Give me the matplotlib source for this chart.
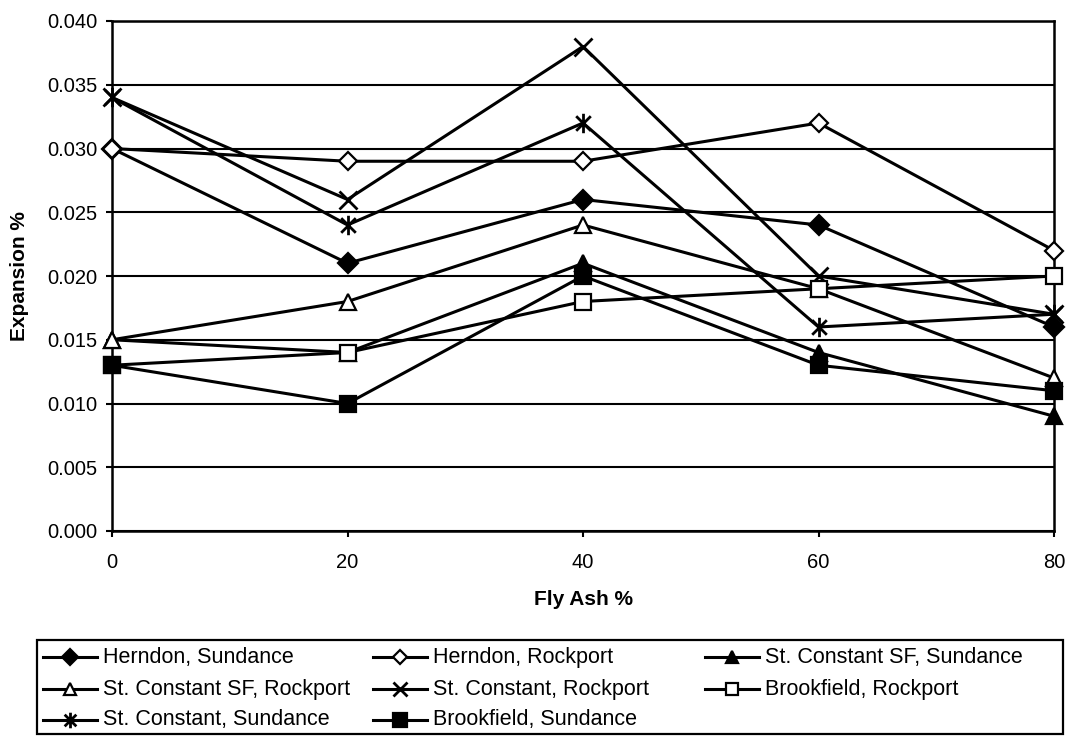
import matplotlib
matplotlib.use("Agg")
import matplotlib.pyplot as plt
from matplotlib.path import Path
from matplotlib.lines import Line2D
from matplotlib.patches import Rectangle

plt.rcParams['font.family'] = ['Liberation Sans', 'DejaVu Sans']

fly_ash = [0, 20, 40, 60, 80]

herndon_sundance = [0.030, 0.021, 0.026, 0.024, 0.016]
herndon_rockport = [0.030, 0.029, 0.029, 0.032, 0.022]
stc_sf_sundance = [0.015, 0.014, 0.021, 0.014, 0.009]
stc_sf_rockport = [0.015, 0.018, 0.024, 0.019, 0.012]
stc_rockport = [0.034, 0.026, 0.038, 0.020, 0.017]
brookfield_rockport = [0.013, 0.014, 0.018, 0.019, 0.020]
stc_sundance = [0.034, 0.024, 0.032, 0.016, 0.017]
brookfield_sundance = [0.013, 0.010, 0.020, 0.013, 0.011]

y_ticks = [0.000, 0.005, 0.010, 0.015, 0.020, 0.025, 0.030, 0.035, 0.040]

# asterisk marker: vertical bar plus an X
asterisk = Path(
    [(0, -1), (0, 1), (-0.75, -0.75), (0.75, 0.75), (-0.75, 0.75), (0.75, -0.75)],
    [Path.MOVETO, Path.LINETO, Path.MOVETO, Path.LINETO, Path.MOVETO, Path.LINETO],
)

W, H = 1070, 736
fig = plt.figure(figsize=(W / 100, H / 100), dpi=100)
ax = fig.add_axes([112 / W, 1 - 531 / H, 942 / W, 510 / H])

lw = 2.2
series = [
    ("Herndon, Sundance", herndon_sundance, dict(marker='D', ms=10, mfc='black')),
    ("Herndon, Rockport", herndon_rockport, dict(marker='D', ms=9, mfc='white')),
    ("St. Constant SF, Sundance", stc_sf_sundance, dict(marker='^', ms=11.5, mfc='black')),
    ("St. Constant SF, Rockport", stc_sf_rockport, dict(marker='^', ms=11, mfc='white')),
    ("St. Constant, Rockport", stc_rockport, dict(marker='x', ms=13, mew=2.0)),
    ("Brookfield, Rockport", brookfield_rockport, dict(marker='s', ms=11, mfc='white')),
    ("St. Constant, Sundance", stc_sundance, dict(marker=asterisk, ms=14, mew=2.0, mfc='none')),
    ("Brookfield, Sundance", brookfield_sundance, dict(marker='s', ms=12, mfc='black')),
]

styles = {}
for name, vals, style in series:
    opts = dict(color='black', lw=lw, mec='black', mew=1.6)
    opts.update(style)
    styles[name] = opts
    ax.plot(fly_ash, vals, label=name, zorder=3, clip_on=False, **opts)

ax.set_xlim(0, 80)
ax.set_ylim(0, 0.040)
ax.set_xticks(fly_ash)
ax.set_yticks(y_ticks)
ax.set_yticklabels([f"{v:.3f}" for v in y_ticks])
ax.yaxis.grid(True, color='black', lw=1.5)
ax.set_axisbelow(True)
for s in ax.spines.values():
    s.set_color('black')
    s.set_linewidth(1.8)
ax.tick_params(axis='both', labelsize=14.5, direction='out', length=4.5, width=1.5, colors='black')
ax.tick_params(axis='x', pad=11)
ax.tick_params(axis='y', pad=6)

ax.set_xlabel("Fly Ash %", fontsize=15, fontweight='bold')
ax.xaxis.set_label_coords(583 / W, 1 - 590 / H, transform=fig.transFigure)
ax.set_ylabel("Expansion %", fontsize=15, fontweight='bold')
ax.yaxis.label.set_va('center')
ax.yaxis.set_label_coords(20 / W, 1 - 276 / H, transform=fig.transFigure)

# legend: three equal-width columns inside a plain box
order = ["Herndon, Sundance", "Herndon, Rockport", "St. Constant SF, Sundance",
         "St. Constant SF, Rockport", "St. Constant, Rockport", "Brookfield, Rockport",
         "St. Constant, Sundance", "Brookfield, Sundance"]
col_x = [43, 373, 705]
row_y = [657, 689, 720]
handle_len = 54
px = lambda x, y: (x / W, 1 - y / H)

fig.add_artist(Rectangle(px(37, 734), 1026 / W, 94 / H, transform=fig.transFigure,
                         fill=False, edgecolor='black', lw=1.6))
for i, name in enumerate(order):
    r, c = divmod(i, 3)
    x0, y = col_x[c], row_y[r]
    st = dict(styles[name])
    (xa, ya), (xb, _) = px(x0, y), px(x0 + handle_len, y)
    fig.add_artist(Line2D([xa, xb], [ya, ya], color='black', lw=lw,
                          transform=fig.transFigure))
    mk = {k: v for k, v in st.items() if k in ('marker', 'ms', 'mfc', 'mec', 'mew')}
    mk['ms'] = mk['ms'] * 0.8
    fig.add_artist(Line2D([(xa + xb) / 2], [ya], ls='none', transform=fig.transFigure, **mk))
    fig.text(*px(x0 + handle_len + 6, y), name, fontsize=15.5, va='center', ha='left')

fig.savefig("out.png", dpi=100, facecolor='white')
